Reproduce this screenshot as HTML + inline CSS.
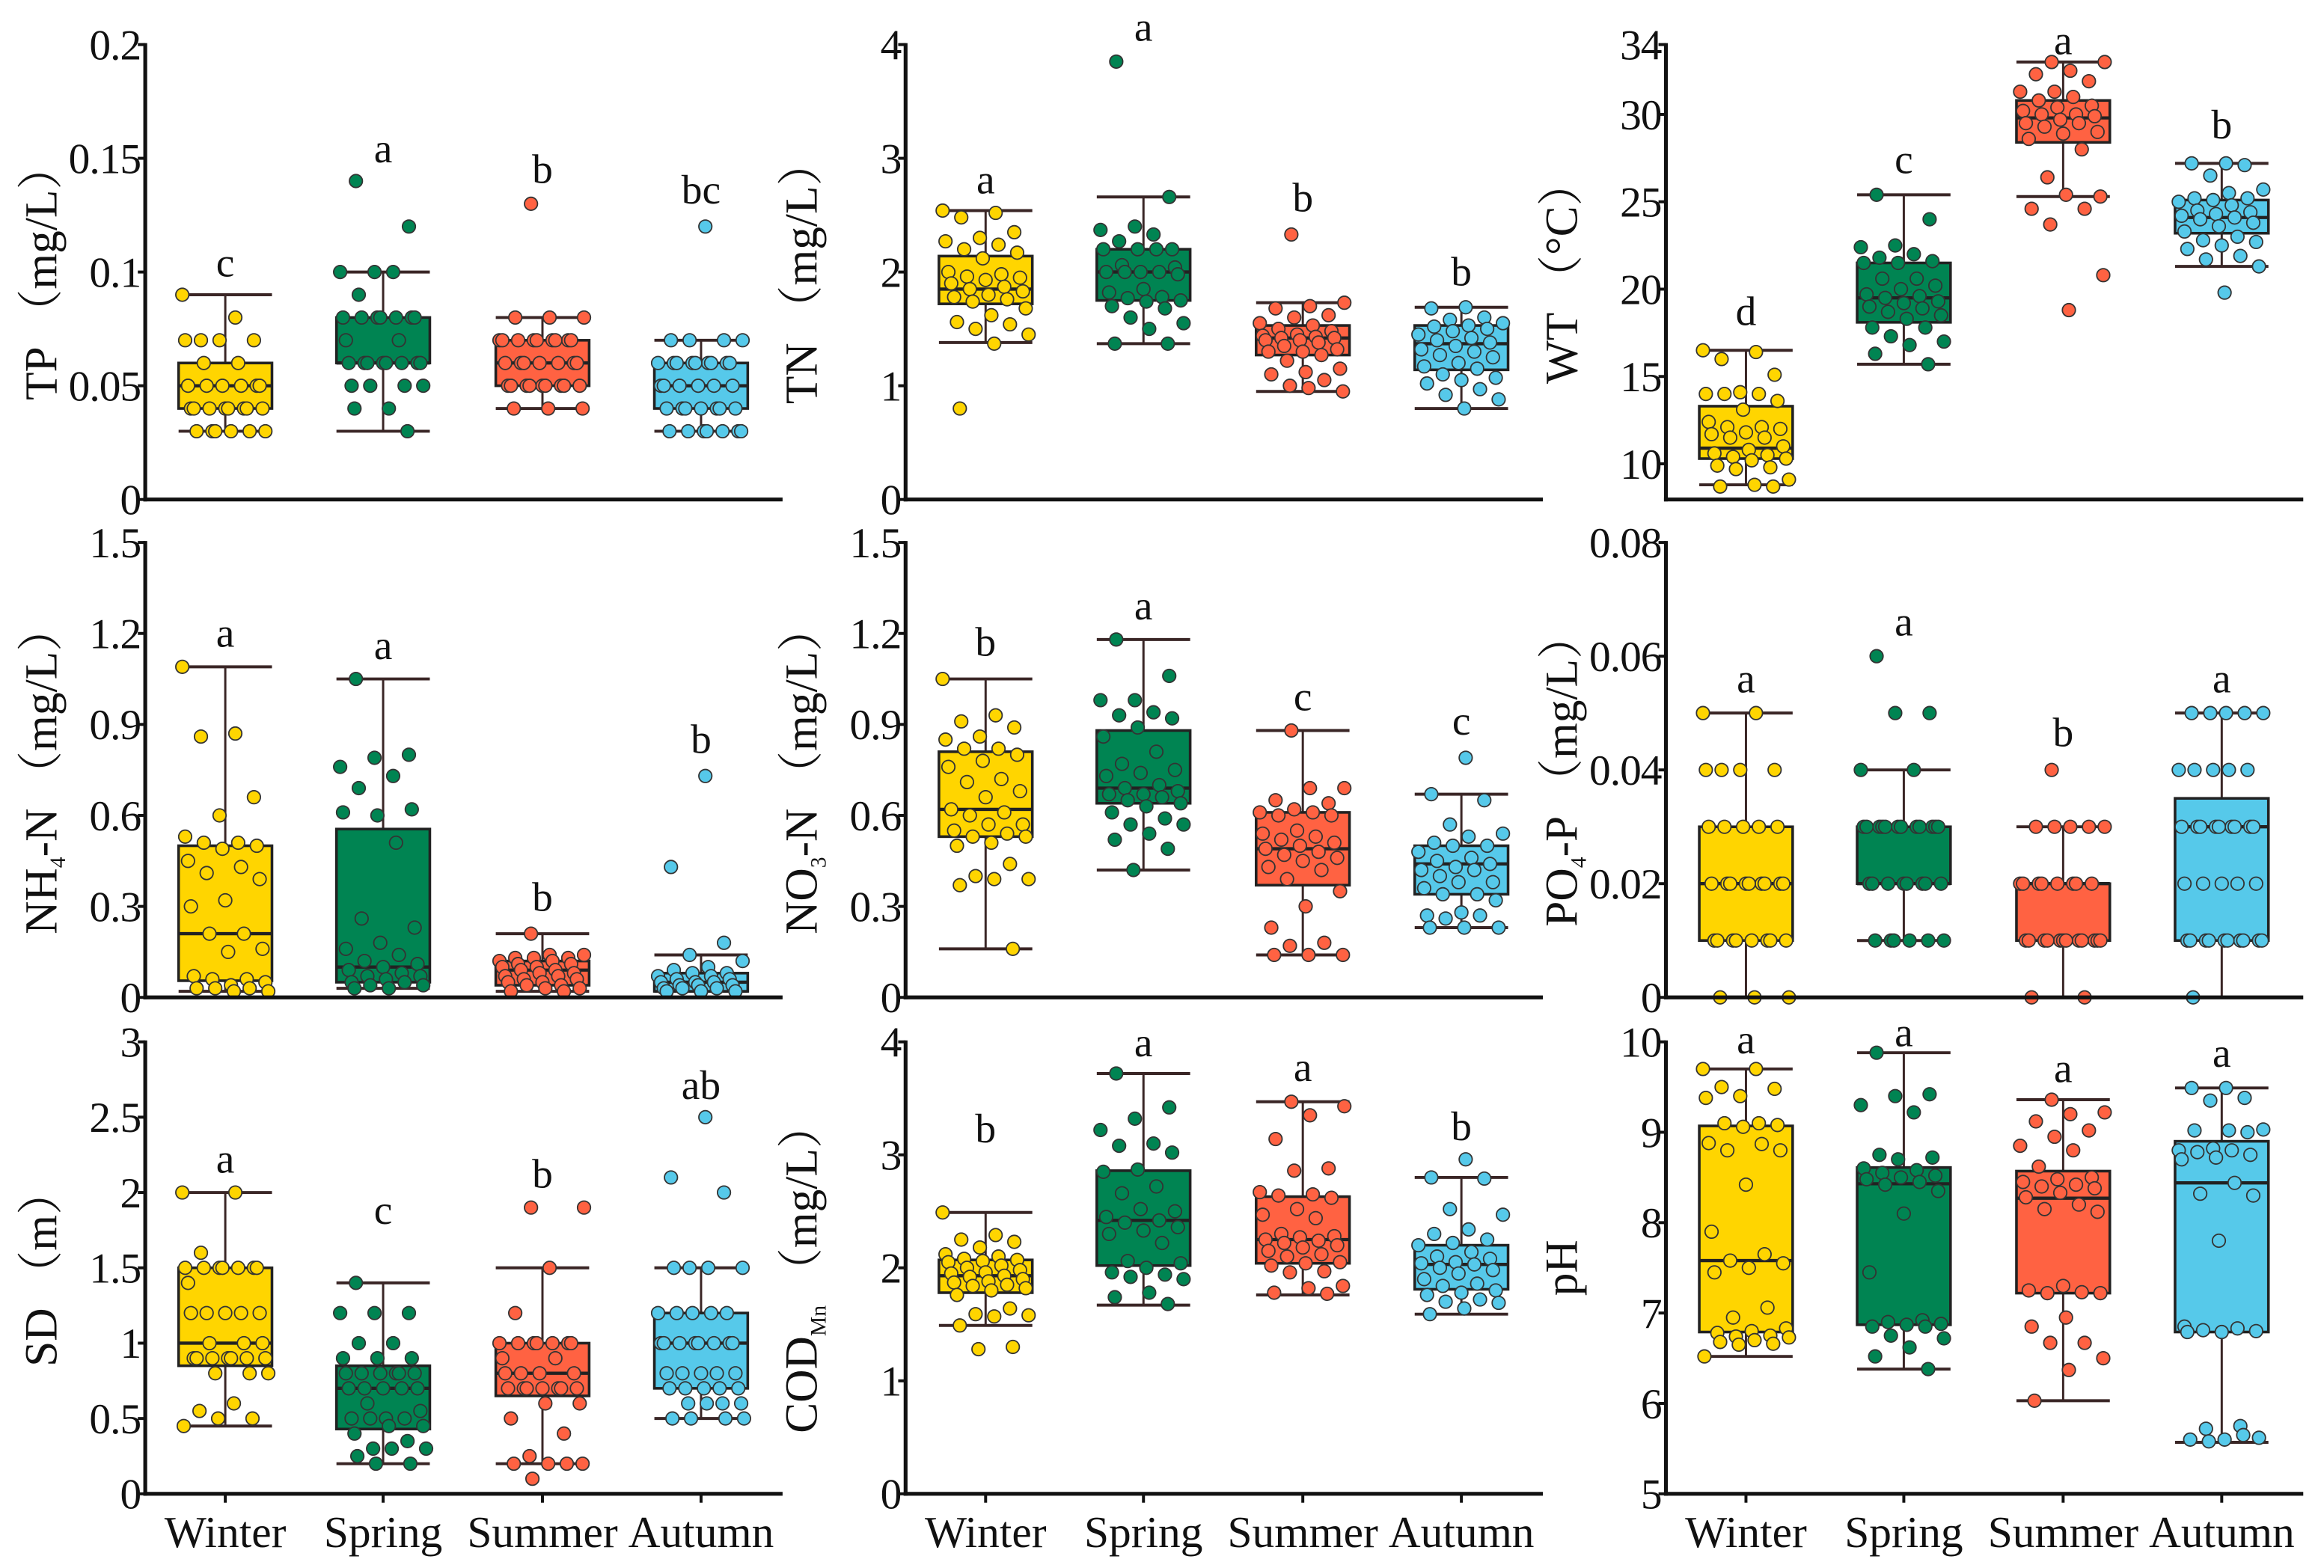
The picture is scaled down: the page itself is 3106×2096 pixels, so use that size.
<!DOCTYPE html>
<html><head><meta charset="utf-8"><style>
html,body{margin:0;padding:0;background:#fff}
svg{display:block}
svg text{font-family:"Liberation Serif","DejaVu Serif","Noto Serif CJK SC",serif;fill:#111}
</style></head><body>
<svg id="chart" width="3106" height="2096" viewBox="0 0 1568 1058" xmlns="http://www.w3.org/2000/svg" font-family="'Liberation Serif', 'DejaVu Serif', 'Noto Serif CJK SC', serif"></svg>
<script>
const seasons = ["Winter","Spring","Summer","Autumn"];
const seasonColors = ["#FFD500","#008452","#FF6242","#56C9EA"];

const tpTicks = [0,0.05,0.1,0.15,0.2];
const tpTickLabels = ["0","0.05","0.1","0.15","0.2"];
const tpStats = [[0.03,0.04,0.05,0.06,0.09],[0.03,0.06,0.06,0.08,0.10],[0.04,0.05,0.06,0.07,0.08],[0.03,0.04,0.05,0.06,0.07]];
const tpLetters = ["c","a","b","bc"];
const tpLetterY = [0.104,0.154,0.145,0.136];
const tpPoints = [
 [0.09,0.08,0.07,0.07,0.07,0.07,0.06,0.06,0.05,0.05,0.05,0.05,0.05,0.05,0.04,0.04,0.04,0.04,0.04,0.04,0.04,0.04,0.03,0.03,0.03,0.03,0.03,0.03],
 [0.14,0.12,0.10,0.10,0.10,0.09,0.08,0.08,0.08,0.08,0.08,0.08,0.08,0.07,0.07,0.06,0.06,0.06,0.06,0.06,0.06,0.06,0.06,0.05,0.05,0.05,0.05,0.04,0.04,0.03],
 [0.13,0.08,0.08,0.08,0.07,0.07,0.07,0.07,0.07,0.07,0.07,0.07,0.07,0.06,0.06,0.06,0.06,0.06,0.06,0.06,0.05,0.05,0.05,0.05,0.05,0.05,0.05,0.05,0.05,0.04,0.04,0.04],
 [0.12,0.07,0.07,0.07,0.07,0.06,0.06,0.06,0.06,0.06,0.06,0.06,0.06,0.06,0.05,0.05,0.05,0.05,0.05,0.05,0.04,0.04,0.04,0.04,0.04,0.04,0.04,0.03,0.03,0.03,0.03,0.03,0.03,0.03]];

const tnTicks = [0,1,2,3,4];
const tnTickLabels = ["0","1","2","3","4"];
const tnStats = [[1.38,1.72,1.85,2.14,2.54],[1.37,1.75,2.0,2.2,2.66],[0.95,1.27,1.42,1.53,1.73],[0.8,1.14,1.37,1.53,1.69]];
const tnLetters = ["a","a","b","b"];
const tnLetterY = [2.81,4.15,2.65,2.0];
const tnPoints = [
 [2.54,2.52,2.48,2.35,2.3,2.27,2.24,2.2,2.17,2.12,2.0,1.98,1.96,1.95,1.93,1.9,1.87,1.85,1.83,1.8,1.78,1.76,1.74,1.68,1.62,1.56,1.54,1.5,1.45,1.37,0.8],
 [3.85,2.66,2.4,2.37,2.33,2.27,2.2,2.2,2.2,2.2,2.06,2.04,2.0,2.0,2.0,2.0,1.98,1.85,1.82,1.78,1.77,1.75,1.74,1.7,1.68,1.6,1.55,1.5,1.37,1.37],
 [2.33,1.73,1.7,1.68,1.62,1.6,1.55,1.53,1.5,1.48,1.45,1.44,1.43,1.42,1.42,1.4,1.4,1.38,1.35,1.32,1.3,1.3,1.27,1.22,1.15,1.12,1.1,1.05,1.0,0.95,0.98],
 [1.69,1.68,1.6,1.58,1.55,1.53,1.52,1.5,1.48,1.45,1.42,1.4,1.38,1.35,1.32,1.3,1.27,1.25,1.2,1.17,1.15,1.1,1.07,1.05,1.02,0.97,0.92,0.88,0.8]];

const wtTicks = [10,15,20,25,30,34];
const wtTickLabels = ["10","15","20","25","30","34"];
const wtStats = [[8.8,10.3,10.9,13.3,16.5],[15.7,18.1,19.5,21.5,25.4],[25.3,28.4,29.8,30.8,33.0],[21.3,23.2,24.1,25.1,27.2]];
const wtLetters = ["d","c","a","b"];
const wtLetterY = [18.7,27.4,34.2,29.4];
const wtPoints = [
 [16.5,16.4,16.0,15.1,14.1,14.0,14.0,14.0,13.6,13.1,12.4,12.1,12.1,12.0,11.8,11.7,11.5,11.5,11.0,10.8,10.6,10.5,10.4,10.3,10.2,9.9,9.8,9.7,9.1,8.8,8.7,8.7],
 [25.4,24.0,22.5,22.4,22.0,21.8,21.6,21.5,21.5,20.6,20.6,20.2,20.0,19.7,19.6,19.5,19.3,19.2,19.0,18.9,18.7,18.5,18.3,17.8,17.8,17.3,17.0,16.8,16.3,15.7],
 [33.0,33.0,32.5,32.3,31.9,31.3,31.3,31.0,30.8,30.5,30.4,30.2,30.0,30.0,29.9,29.7,29.5,29.5,29.3,29.0,28.9,28.6,28.0,26.4,25.3,25.4,24.6,24.6,23.7,20.8,18.8],
 [27.2,27.2,27.1,26.5,25.7,25.5,25.2,25.2,25.1,25.0,24.8,24.5,24.4,24.3,24.2,24.1,24.0,23.8,23.6,23.3,23.0,22.8,22.7,22.5,22.3,21.9,21.7,21.3,19.8]];

const nh4Ticks = [0,0.3,0.6,0.9,1.2,1.5];
const nh4TickLabels = ["0","0.3","0.6","0.9","1.2","1.5"];
const nh4Stats = [[0.02,0.055,0.21,0.50,1.09],[0.03,0.05,0.10,0.555,1.05],[0.02,0.04,0.09,0.12,0.21],[0.02,0.02,0.05,0.08,0.14]];
const nh4Letters = ["a","a","b","b"];
const nh4LetterY = [1.2,1.16,0.33,0.85];
const nh4Points = [
 [1.09,0.87,0.86,0.66,0.60,0.53,0.51,0.51,0.50,0.49,0.45,0.43,0.41,0.39,0.32,0.30,0.21,0.21,0.16,0.15,0.07,0.06,0.06,0.05,0.04,0.03,0.03,0.03,0.02,0.02],
 [1.05,0.80,0.79,0.76,0.73,0.69,0.62,0.60,0.61,0.51,0.26,0.23,0.18,0.16,0.14,0.12,0.11,0.10,0.09,0.08,0.07,0.07,0.06,0.05,0.05,0.04,0.04,0.03,0.03],
 [0.21,0.14,0.14,0.13,0.13,0.13,0.12,0.12,0.11,0.11,0.10,0.10,0.09,0.09,0.08,0.08,0.07,0.07,0.06,0.06,0.05,0.05,0.04,0.04,0.03,0.03,0.02,0.02],
 [0.73,0.43,0.18,0.14,0.12,0.10,0.09,0.08,0.08,0.07,0.07,0.06,0.06,0.05,0.05,0.05,0.04,0.04,0.04,0.03,0.03,0.03,0.02,0.02,0.02]];

const no3Ticks = [0,0.3,0.6,0.9,1.2,1.5];
const no3TickLabels = ["0","0.3","0.6","0.9","1.2","1.5"];
const no3Stats = [[0.16,0.53,0.62,0.81,1.05],[0.42,0.64,0.69,0.88,1.18],[0.14,0.37,0.49,0.61,0.88],[0.23,0.34,0.44,0.50,0.67]];
const no3Letters = ["b","a","c","c"];
const no3LetterY = [1.17,1.29,0.99,0.91];
const no3Points = [
 [1.05,0.93,0.91,0.89,0.86,0.85,0.82,0.82,0.80,0.78,0.76,0.72,0.71,0.68,0.66,0.62,0.61,0.60,0.57,0.57,0.55,0.54,0.53,0.53,0.51,0.50,0.44,0.40,0.39,0.39,0.37,0.16],
 [1.18,1.06,0.98,0.98,0.94,0.93,0.92,0.89,0.86,0.81,0.77,0.75,0.74,0.73,0.70,0.69,0.68,0.67,0.67,0.66,0.65,0.64,0.63,0.61,0.59,0.57,0.57,0.54,0.52,0.49,0.42],
 [0.88,0.69,0.69,0.65,0.64,0.62,0.61,0.61,0.60,0.60,0.55,0.54,0.53,0.52,0.51,0.50,0.49,0.48,0.47,0.46,0.45,0.43,0.42,0.39,0.35,0.30,0.23,0.18,0.17,0.14,0.14,0.14],
 [0.79,0.67,0.65,0.57,0.54,0.53,0.51,0.50,0.50,0.48,0.46,0.45,0.44,0.43,0.42,0.42,0.40,0.38,0.38,0.36,0.34,0.34,0.32,0.28,0.27,0.27,0.26,0.23,0.23,0.23]];

const po4Ticks = [0,0.02,0.04,0.06,0.08];
const po4TickLabels = ["0","0.02","0.04","0.06","0.08"];
const po4Stats = [[0,0.01,0.02,0.03,0.05],[0.01,0.02,0.02,0.03,0.04],[0,0.01,0.02,0.02,0.03],[0,0.01,0.03,0.035,0.05]];
const po4Letters = ["a","a","b","a"];
const po4LetterY = [0.056,0.066,0.0465,0.056];
const po4Points = [
 [0.05,0.05,0.04,0.04,0.04,0.04,0.03,0.03,0.03,0.03,0.03,0.02,0.02,0.02,0.02,0.02,0.02,0.02,0.02,0.02,0.01,0.01,0.01,0.01,0.01,0.01,0.01,0.01,0,0,0],
 [0.06,0.05,0.05,0.04,0.04,0.03,0.03,0.03,0.03,0.03,0.03,0.03,0.03,0.03,0.03,0.03,0.03,0.02,0.02,0.02,0.02,0.02,0.02,0.02,0.02,0.01,0.01,0.01,0.01,0.01,0.01],
 [0.04,0.03,0.03,0.03,0.03,0.03,0.02,0.02,0.02,0.02,0.02,0.02,0.02,0.02,0.01,0.01,0.01,0.01,0.01,0.01,0.01,0.01,0.01,0.01,0.01,0.01,0,0],
 [0.05,0.05,0.05,0.05,0.05,0.04,0.04,0.04,0.04,0.04,0.03,0.03,0.03,0.03,0.03,0.03,0.03,0.03,0.03,0.02,0.02,0.02,0.02,0.02,0.01,0.01,0.01,0.01,0.01,0.01,0.01,0.01,0.01,0.01,0]];

const sdTicks = [0,0.5,1,1.5,2,2.5,3];
const sdTickLabels = ["0","0.5","1","1.5","2","2.5","3"];
const sdStats = [[0.45,0.85,1.0,1.5,2.0],[0.2,0.43,0.7,0.85,1.4],[0.2,0.65,0.8,1.0,1.5],[0.5,0.7,1.0,1.2,1.5]];
const sdLetters = ["a","c","b","ab"];
const sdLetterY = [2.22,1.88,2.12,2.71];
const sdPoints = [
 [2,2,1.6,1.5,1.5,1.5,1.5,1.5,1.5,1.5,1.4,1.2,1.2,1.2,1.2,1.2,1.0,1.0,1.0,0.9,0.9,0.9,0.9,0.9,0.9,0.9,0.8,0.8,0.8,0.6,0.55,0.5,0.5,0.45],
 [1.4,1.2,1.2,1.2,1.0,1.0,0.9,0.9,0.9,0.8,0.8,0.8,0.8,0.8,0.8,0.7,0.7,0.7,0.7,0.7,0.6,0.55,0.5,0.5,0.5,0.5,0.45,0.45,0.4,0.35,0.3,0.3,0.3,0.25,0.2,0.2],
 [1.9,1.9,1.5,1.2,1.0,1.0,1.0,1.0,1.0,1.0,1.0,0.9,0.9,0.8,0.8,0.8,0.8,0.7,0.7,0.7,0.7,0.7,0.7,0.7,0.6,0.6,0.5,0.4,0.25,0.2,0.2,0.2,0.2,0.1],
 [2.5,2.1,2.0,1.5,1.5,1.5,1.5,1.2,1.2,1.2,1.2,1.2,1.0,1.0,1.0,1.0,1.0,1.0,1.0,1.0,0.8,0.8,0.8,0.8,0.8,0.7,0.7,0.7,0.7,0.7,0.6,0.6,0.6,0.6,0.5,0.5,0.5,0.5]];

const codTicks = [0,1,2,3,4];
const codTickLabels = ["0","1","2","3","4"];
const codStats = [[1.49,1.78,1.93,2.07,2.49],[1.67,2.02,2.42,2.86,3.72],[1.76,2.04,2.25,2.63,3.47],[1.59,1.81,2.03,2.2,2.8]];
const codLetters = ["b","a","a","b"];
const codLetterY = [3.23,3.99,3.77,3.25];
const codPoints = [
 [2.49,2.29,2.25,2.23,2.18,2.12,2.1,2.08,2.07,2.06,2.05,2.02,2.0,1.98,1.96,1.95,1.93,1.92,1.9,1.88,1.87,1.85,1.84,1.82,1.8,1.76,1.64,1.59,1.58,1.57,1.49,1.3,1.28],
 [3.72,3.42,3.32,3.22,3.1,3.08,3.02,2.87,2.85,2.72,2.66,2.5,2.52,2.45,2.42,2.4,2.36,2.33,2.3,2.22,2.06,2.04,2.0,1.96,1.94,1.92,1.9,1.78,1.74,1.68],
 [3.47,3.43,3.35,3.14,2.88,2.86,2.67,2.65,2.64,2.62,2.52,2.47,2.44,2.3,2.28,2.27,2.25,2.24,2.22,2.2,2.18,2.15,2.12,2.1,2.05,2.04,2.02,1.97,1.96,1.84,1.82,1.78,1.77],
 [2.96,2.8,2.79,2.52,2.47,2.34,2.3,2.25,2.22,2.2,2.14,2.1,2.08,2.05,2.04,2.03,2.0,1.98,1.95,1.9,1.86,1.84,1.8,1.78,1.76,1.72,1.7,1.69,1.64,1.59]];

const phTicks = [5,6,7,8,9,10];
const phTickLabels = ["5","6","7","8","9","10"];
const phStats = [[6.52,6.79,7.58,9.07,9.7],[6.38,6.87,8.43,8.61,9.88],[6.03,7.22,8.27,8.57,9.36],[5.57,6.79,8.44,8.9,9.49]];
const phLetters = ["a","a","a","a"];
const phLetterY = [10.02,10.1,9.7,9.87];
const phPoints = [
 [9.7,9.7,9.5,9.48,9.4,9.38,9.1,9.1,9.08,9.06,8.88,8.87,8.8,8.8,8.42,7.9,7.65,7.58,7.55,7.5,7.45,7.06,6.95,6.83,6.8,6.78,6.75,6.74,6.73,6.7,6.68,6.66,6.65,6.52],
 [9.88,9.42,9.4,9.3,9.22,8.75,8.72,8.7,8.6,8.58,8.55,8.52,8.5,8.48,8.45,8.42,8.35,8.1,7.45,6.92,6.9,6.88,6.87,6.85,6.85,6.75,6.72,6.62,6.52,6.38],
 [9.36,9.22,9.2,9.12,9.02,8.95,8.85,8.8,8.62,8.5,8.48,8.45,8.42,8.4,8.38,8.33,8.28,8.2,8.15,8.12,7.3,7.25,7.23,7.22,7.22,6.95,6.85,6.67,6.67,6.5,6.37,6.03],
 [9.49,9.49,9.38,9.35,9.03,9.02,9.02,9.0,8.82,8.8,8.8,8.78,8.75,8.72,8.7,8.44,8.32,8.3,7.8,6.85,6.83,6.81,6.8,6.79,6.79,5.75,5.72,5.62,5.6,5.6,5.65,5.58]];

const NS = "http://www.w3.org/2000/svg";
const FONT = "'Liberation Serif', 'DejaVu Serif', 'Noto Serif CJK SC', serif";
const svg = document.getElementById("chart");
function mk(tag, attrs, parent){ const e=document.createElementNS(NS,tag); for(const k in attrs) e.setAttribute(k,attrs[k]); if(tag==="text") e.setAttribute("font-family",FONT); (parent||svg).appendChild(e); return e; }

const colX = [98, 611, 1124];
const rowTop = [30, 366, 703];
const rowBot = [337, 673, 1008];
const axisLen = 430;
const centerOff = [54, 160.5, 268, 375];
const boxW = 63;

const panels = [
 {name:"tp", row:0,col:0, min:0,max:0.2, ticks:tpTicks, labels:tpTickLabels, stats:tpStats, pts:tpPoints, letters:tpLetters, ly:tpLetterY, title:["TP","",""," （mg/L）"]},
 {name:"tn", row:0,col:1, min:0,max:4, ticks:tnTicks, labels:tnTickLabels, stats:tnStats, pts:tnPoints, letters:tnLetters, ly:tnLetterY, title:["TN","",""," （mg/L）"]},
 {name:"wt", row:0,col:2, min:7.96,max:34, ticks:wtTicks, labels:wtTickLabels, stats:wtStats, pts:wtPoints, letters:wtLetters, ly:wtLetterY, title:["WT","",""," （°C）"]},
 {name:"nh4", row:1,col:0, min:0,max:1.5, ticks:nh4Ticks, labels:nh4TickLabels, stats:nh4Stats, pts:nh4Points, letters:nh4Letters, ly:nh4LetterY, title:["NH","4","-N"," （mg/L）"]},
 {name:"no3", row:1,col:1, min:0,max:1.5, ticks:no3Ticks, labels:no3TickLabels, stats:no3Stats, pts:no3Points, letters:no3Letters, ly:no3LetterY, title:["NO","3","-N"," （mg/L）"]},
 {name:"po4", row:1,col:2, min:0,max:0.08, ticks:po4Ticks, labels:po4TickLabels, stats:po4Stats, pts:po4Points, letters:po4Letters, ly:po4LetterY, title:["PO","4","-P"," （mg/L）"]},
 {name:"sd", row:2,col:0, min:0,max:3, ticks:sdTicks, labels:sdTickLabels, stats:sdStats, pts:sdPoints, letters:sdLetters, ly:sdLetterY, title:["SD","",""," （m）"]},
 {name:"cod", row:2,col:1, min:0,max:4, ticks:codTicks, labels:codTickLabels, stats:codStats, pts:codPoints, letters:codLetters, ly:codLetterY, title:["COD","Mn",""," （mg/L）"]},
 {name:"ph", row:2,col:2, min:5,max:10, ticks:phTicks, labels:phTickLabels, stats:phStats, pts:phPoints, letters:phLetters, ly:phLetterY, title:["pH","","",""]}
];

panels.forEach(p=>{
  const ax = colX[p.col], top=rowTop[p.row], bot=rowBot[p.row];
  const y = v => bot - (v-p.min)/(p.max-p.min)*(bot-top);
  const x = i => ax + centerOff[i];
  const g = mk("g",{});
  
  
  p.stats.forEach((s,i)=>{
    const bg = mk("g",{},g);
    
    
    const cx=x(i);
    mk("line",{x1:cx,x2:cx,y1:y(s[4]),y2:y(s[3]),stroke:"#3a2626","stroke-width":1.5},bg);
    mk("line",{x1:cx,x2:cx,y1:y(s[1]),y2:y(s[0]),stroke:"#3a2626","stroke-width":1.5},bg);
    mk("line",{x1:cx-boxW/2,x2:cx+boxW/2,y1:y(s[4]),y2:y(s[4]),stroke:"#3a2626","stroke-width":2},bg);
    mk("line",{x1:cx-boxW/2,x2:cx+boxW/2,y1:y(s[0]),y2:y(s[0]),stroke:"#3a2626","stroke-width":2},bg);
    mk("rect",{x:cx-boxW/2,y:y(s[3]),width:boxW,height:Math.max(0.5,y(s[1])-y(s[3])),fill:seasonColors[i],stroke:"#222","stroke-width":1.8},bg);
    mk("line",{x1:cx-boxW/2,x2:cx+boxW/2,y1:y(s[2]),y2:y(s[2]),stroke:"#222","stroke-width":2.2},bg);
  });
  p.pts.forEach((arr,i)=>{
    const pg = mk("g",{},g);
    
    
    arr.forEach((v,k)=>{
      const jit = ((k*37+i*11)%61)/60*58 - 29;
      const c = mk("circle",{cx:x(i)+jit,cy:y(v),r:4.4,fill:seasonColors[i],stroke:"#333","stroke-width":0.9},pg);
      
      
    });
  });
  p.letters.forEach((L,i)=>{
    const t = mk("text",{x:x(i),y:y(p.ly[i])+9,"font-size":28,"text-anchor":"middle"},g);
    t.textContent = L;
    
    
  });
  const axl = mk("line",{x1:ax,x2:ax,y1:top-1,y2:bot+1.3,stroke:"#111","stroke-width":2.6},g);
  
  
  const xxl = mk("line",{x1:ax-1.3,x2:ax+axisLen,y1:bot,y2:bot,stroke:"#111","stroke-width":2.6},g);
  
  
  p.ticks.forEach((tv,k)=>{
    mk("line",{x1:ax-5,x2:ax,y1:y(tv),y2:y(tv),stroke:"#111","stroke-width":2},g);
    const t = mk("text",{x:ax-3,y:y(tv)+10,"font-size":29,"text-anchor":"end","letter-spacing":"-0.5"},g);
    t.textContent = p.labels[k];
    
    
  });
  if(p.row===2){
    seasons.forEach((s,i)=>{
      mk("line",{x1:x(i),x2:x(i),y1:bot,y2:bot+6,stroke:"#111","stroke-width":2},g);
      const t = mk("text",{x:x(i),y:bot+36,"font-size":30,"text-anchor":"middle"},g);
      t.textContent = s;
      
      
    });
  }
  const tx = ax-60, ty=(top+bot)/2;
  const tt = mk("text",{x:tx,y:ty,"font-size":31,"text-anchor":"middle",transform:`rotate(-90 ${tx} ${ty})`},g);
  
  
  const a = mk("tspan",{},tt); a.textContent = p.title[0];
  if(p.title[1]){ const b = mk("tspan",{"font-size":15,dy:6},tt); b.textContent=p.title[1]; }
  if(p.title[2]){ const c = mk("tspan",{dy:p.title[1]?-6:0},tt); c.textContent=p.title[2]; }
  if(p.title[3]){ const d = mk("tspan",{dy:(p.title[1]&&!p.title[2])?-6:0},tt); d.textContent=p.title[3]; }
});
</script>
</body></html>
